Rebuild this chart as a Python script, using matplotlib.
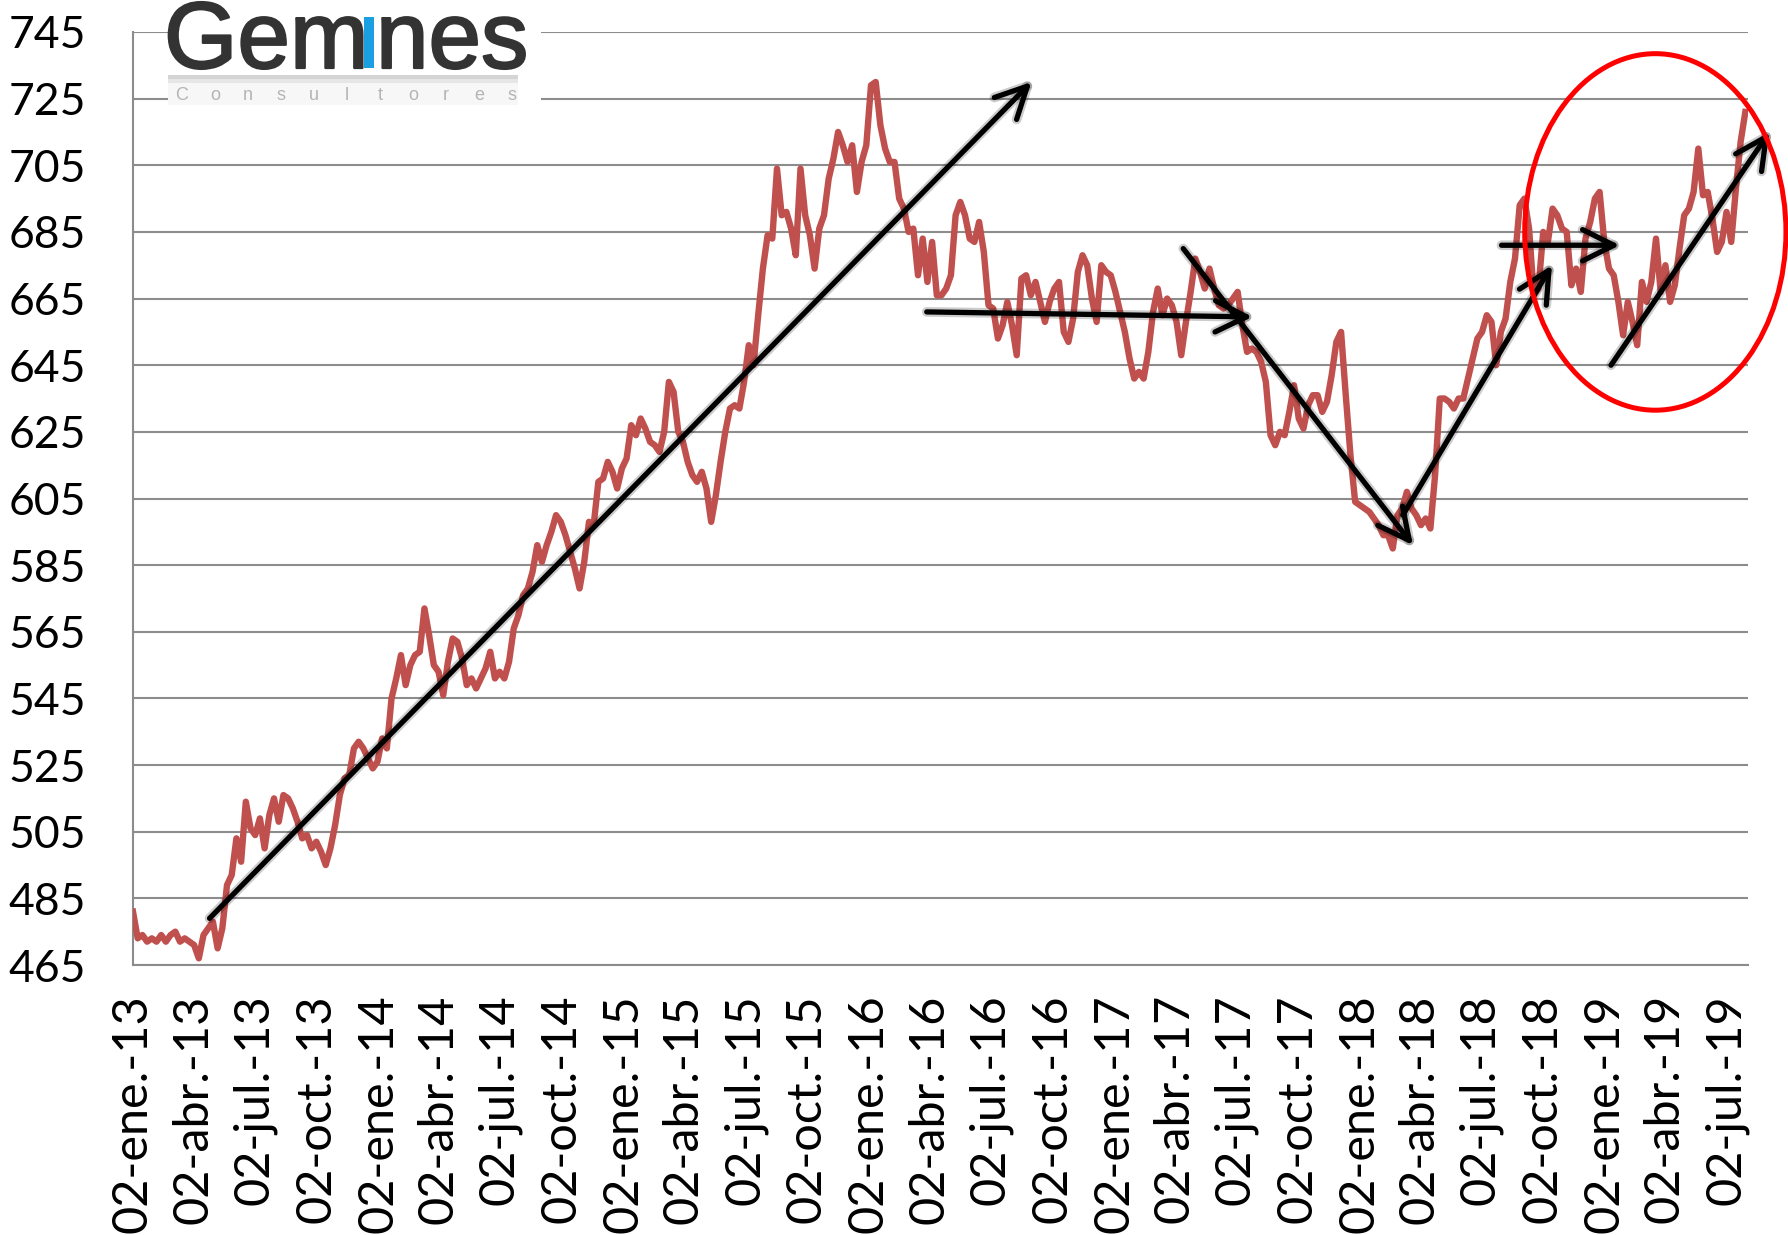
import matplotlib
matplotlib.use("Agg")
import matplotlib.pyplot as plt
import matplotlib.dates as mdates
import matplotlib.patheffects as pe
from matplotlib.patches import Ellipse, Rectangle
import pandas as pd

# Weekly USD/CLP observed rate, first week of Jan 2013 to end of Jul 2019
START = "2013-01-02"
weekly_rate = [
    481, 473, 474, 472, 473, 472, 474, 472, 474, 475,
    472, 473, 472, 471, 467, 474, 476, 478, 470, 476,
    489, 492, 503, 496, 514, 506, 504, 509, 500, 510,
    515, 508, 516, 515, 512, 508, 503, 504, 500, 502,
    499, 495, 500, 507, 516, 521, 522, 530, 532, 530,
    527, 524, 526, 533, 530, 545, 551, 558, 549, 555,
    558, 559, 572, 564, 555, 553, 546, 556, 563, 562,
    557, 549, 551, 548, 551, 554, 559, 551, 553, 551,
    556, 566, 570, 576, 578, 583, 591, 586, 591, 595,
    600, 598, 594, 589, 584, 578, 586, 598, 597, 610,
    611, 616, 613, 608, 614, 617, 627, 624, 629, 626,
    622, 621, 619, 625, 640, 637, 625, 622, 616, 612,
    610, 613, 608, 598, 606, 616, 625, 632, 633, 632,
    640, 651, 645, 660, 674, 684, 683, 704, 690, 691,
    686, 678, 704, 690, 684, 674, 686, 690, 701, 707,
    715, 711, 706, 711, 697, 706, 711, 729, 730, 717,
    710, 706, 706, 695, 692, 685, 686, 672, 683, 670,
    682, 666, 666, 668, 672, 690, 694, 690, 683, 682,
    688, 679, 663, 662, 653, 657, 664, 657, 648, 671,
    672, 666, 670, 664, 658, 664, 668, 670, 655, 652,
    659, 673, 678, 675, 665, 658, 675, 673, 672, 667,
    661, 655, 647, 641, 643, 641, 649, 661, 668, 660,
    665, 663, 658, 648, 658, 667, 677, 673, 668, 674,
    668, 663, 662, 663, 665, 667, 657, 649, 650, 649,
    646, 640, 624, 621, 625, 624, 631, 639, 629, 626,
    633, 636, 636, 631, 634, 642, 652, 655, 636, 618,
    604, 603, 602, 601, 599, 597, 594, 594, 590, 600,
    602, 607, 602, 600, 597, 599, 596, 612, 635, 635,
    634, 632, 635, 635, 641, 647, 653, 655, 660, 658,
    645, 655, 659, 670, 677, 693, 695, 686, 666, 668,
    685, 682, 692, 690, 686, 685, 669, 674, 667, 683,
    688, 695, 697, 682, 674, 672, 664, 654, 664, 658,
    651, 670, 664, 670, 683, 667, 675, 664, 669, 680,
    690, 692, 697, 710, 696, 697, 689, 679, 682, 691,
    682, 698, 712, 721,
]
dates = pd.date_range(START, periods=len(weekly_rate), freq="7D")

# quarterly axis labels, Spanish month abbreviations
MONTHS = {1: "ene.", 4: "abr.", 7: "jul.", 10: "oct."}
tick_dates = pd.date_range("2013-01-01", "2019-07-01", freq="3MS") + pd.Timedelta(days=1)
tick_labels = [f"{d.day:02d}-{MONTHS[d.month]}-{d.year % 100:02d}" for d in tick_dates]
y_ticks = list(range(465, 746, 20))

# hand-drawn trend arrows: (start date, start value, end date, end value)
trend_arrows = [
    ("2013-04-26", 479, "2016-09-01", 730),
    ("2016-03-29", 661, "2017-07-27", 659.5),
    ("2017-04-15", 680, "2018-03-23", 591),
    ("2018-03-08", 600, "2018-10-16", 675),
    ("2018-08-02", 681, "2019-01-25", 681),
    ("2019-01-12", 645, "2019-09-05", 715),
]
# ring around the latest move
ring_center = ("2019-03-19", 685)
ring_width_days = 389
ring_height = 107

LINE_RED = "#c0504d"
GRID = "#8c8c8c"
FONT = "Lato"
LOGO_FONT = "Liberation Sans"

fig = plt.figure(figsize=(17.88, 12.35), dpi=100)
ax = fig.add_axes([133 / 1788, 1 - 965 / 1235, 1615 / 1788, 933 / 1235])

ax.plot(dates, weekly_rate, color=LINE_RED, lw=4.6, solid_joinstyle="round", zorder=3)

ax.set_ylim(y_ticks[0], y_ticks[-1])
ax.set_yticks(y_ticks)
ax.set_xlim(pd.Timestamp(START), pd.Timestamp(START) + pd.Timedelta(days=2405))
ax.set_xticks(tick_dates)
ax.set_xticklabels(tick_labels, rotation=90)

ax.yaxis.grid(True, color=GRID, lw=1.5)
ax.set_axisbelow(True)
for side in ("top", "right"):
    ax.spines[side].set_visible(False)
for side in ("left", "bottom"):
    ax.spines[side].set_color(GRID)
    ax.spines[side].set_linewidth(1.5)
ax.tick_params(length=0, colors="black")
ax.tick_params(axis="y", pad=34, labelsize=32)
ax.tick_params(axis="x", pad=21, labelsize=35)
for lab in ax.get_xticklabels() + ax.get_yticklabels():
    lab.set_family(FONT)

for x0, y0, x1, y1 in trend_arrows:
    ann = ax.annotate(
        "",
        xy=(pd.Timestamp(x1), y1),
        xytext=(pd.Timestamp(x0), y0),
        arrowprops=dict(
            arrowstyle="->,head_length=0.9,head_width=0.45",
            color="black",
            lw=3.8,
            shrinkA=0,
            shrinkB=0,
            mutation_scale=25,
        ),
        annotation_clip=False,
        zorder=4,
    )
    ann.arrow_patch.set_path_effects(
        [pe.Stroke(linewidth=7, foreground=(0, 0, 0, 0.2)), pe.Normal()]
    )

ring = Ellipse(
    (mdates.date2num(pd.Timestamp(ring_center[0])), ring_center[1]),
    width=ring_width_days,
    height=ring_height,
    fill=False,
    edgecolor="#ff0000",
    lw=3.6,
    clip_on=False,
    zorder=5,
)
ax.add_patch(ring)


# company logo, top left over the grid
def px(x, y):
    return x / 1788, 1 - y / 1235


def fig_rect(x, y_top, w, h, color, z):
    fig.patches.append(
        Rectangle(px(x, y_top + h), w / 1788, h / 1235, transform=fig.transFigure,
                  facecolor=color, edgecolor="none", zorder=z)
    )


fig_rect(168, 0, 373, 116, "white", 2)
fig_rect(168, 75, 350, 4, "#d4d4d4", 2.1)
fig_rect(168, 79, 350, 4, "#e6e6e6", 2.1)
fig_rect(168, 83, 350, 22, "#f7f7f7", 2.1)

word_style = dict(fontsize=68, family=LOGO_FONT, color="#333333",
                  ha="left", va="baseline", zorder=3)
bold = [pe.withStroke(linewidth=1.6, foreground="#333333")]
fig.text(*px(164, 68), "Gem", path_effects=bold, **word_style)
fig_rect(364, 17, 10, 51, "#1a9fe0", 3)
fig.text(*px(376, 68), "nes", path_effects=bold, **word_style)
for i, ch in enumerate("Consultores"):
    fig.text(*px(182 + i * 33, 100), ch, fontsize=13, family=LOGO_FONT,
             color="#b4b4b4", ha="center", va="baseline", zorder=3)

fig.savefig("out.png", dpi=100)
